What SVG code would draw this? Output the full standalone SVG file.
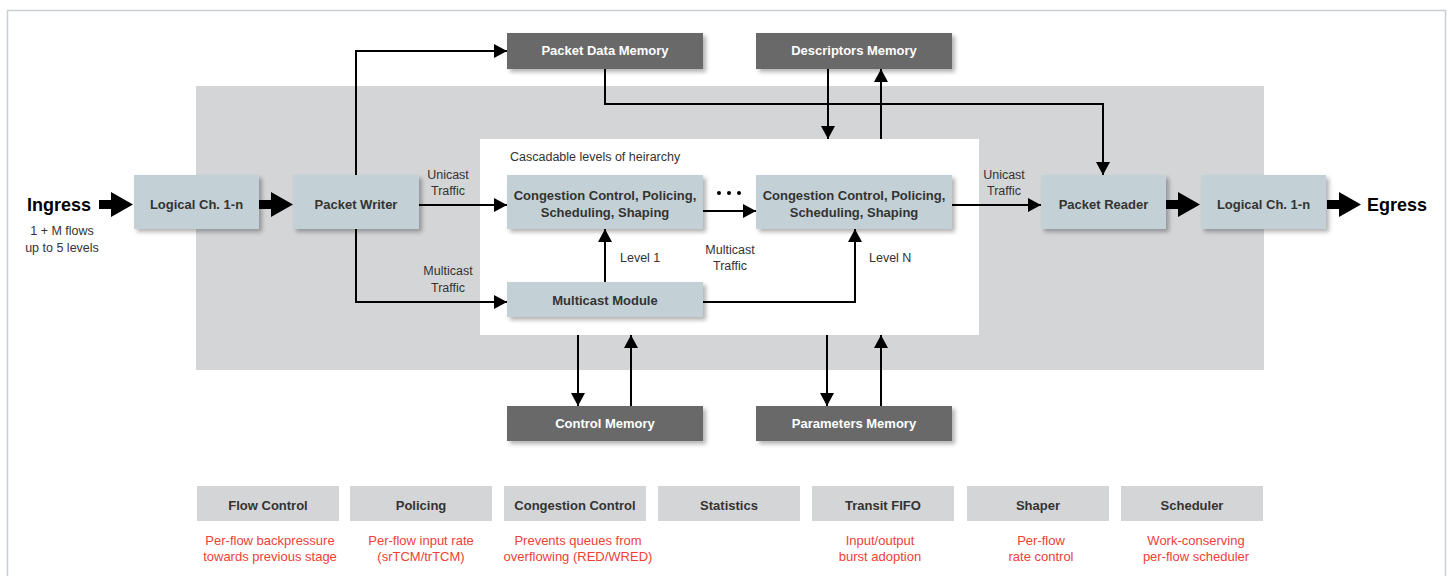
<svg xmlns="http://www.w3.org/2000/svg" width="1448" height="576" viewBox="0 0 1448 576">
<defs>
<filter id="sh" x="-10%" y="-20%" width="130%" height="160%"><feDropShadow dx="3" dy="3" stdDeviation="2" flood-color="#000" flood-opacity="0.3"/></filter>
<marker id="ah" markerUnits="userSpaceOnUse" markerWidth="13" markerHeight="14" refX="13" refY="7" orient="auto"><path d="M0,0 L13,7 L0,14 z" fill="#000"/></marker>
</defs>
<style>
.blk{fill:#c3d0d5;filter:url(#sh)}
.mem{fill:#69696b;filter:url(#sh)}
.bt{font-family:"Liberation Sans",Arial,sans-serif;font-weight:bold;font-size:13px;fill:#333;text-anchor:middle}
.mt{font-family:"Liberation Sans",Arial,sans-serif;font-weight:bold;font-size:13px;fill:#fff;text-anchor:middle}
.lb{font-family:"Liberation Sans",Arial,sans-serif;font-size:12.5px;fill:#333;text-anchor:middle}
.ll{font-family:"Liberation Sans",Arial,sans-serif;font-size:12.5px;fill:#333}
.big{font-family:"Liberation Sans",Arial,sans-serif;font-weight:bold;font-size:18px;fill:#000}
.leg{fill:#d4d5d7}
.red{font-family:"Liberation Sans",Arial,sans-serif;font-size:13px;fill:#ef4136;text-anchor:middle}
.c{fill:none;stroke:#000;stroke-width:2}
.ca{fill:none;stroke:#000;stroke-width:2;marker-end:url(#ah)}
</style>
<rect x="0" y="0" width="1448" height="576" fill="#fff"/>
<rect x="7.5" y="10.5" width="1438" height="580" fill="#fff" stroke="#c9ced2" stroke-width="1.5"/>
<rect x="196" y="86" width="1068" height="284" fill="#d4d5d7"/>
<rect x="480" y="139" width="499" height="196" fill="#fff"/>
<text x="510" y="161" class="ll">Cascadable levels of heirarchy</text>

<g id="connectors">
<path class="ca" d="M356,175 V51 H507"/>
<path class="ca" d="M356,229 V302 H507"/>
<path class="ca" d="M419,205 H507"/>
<path class="ca" d="M605,69 V104 H1103 V175"/>
<path class="ca" d="M828,69 V139"/>
<path class="ca" d="M881,139 V69"/>
<path class="ca" d="M703,211 H756"/>
<path class="ca" d="M605,282 V229"/>
<path class="ca" d="M703,302 H855 V229"/>
<path class="ca" d="M952,205 H1041"/>
<path class="ca" d="M578,335 V406"/>
<path class="ca" d="M631,406 V335"/>
<path class="ca" d="M827,335 V406"/>
<path class="ca" d="M881,406 V335"/>
<polygon points="99,200 111,200 111,192 133,204.5 111,217 111,209 99,209" fill="#000"/>
<polygon points="259,200 271,200 271,192 293,204.5 271,217 271,209 259,209" fill="#000"/>
<polygon points="1166,200 1178,200 1178,192 1200,204.5 1178,217 1178,209 1166,209" fill="#000"/>
<polygon points="1327,200 1339,200 1339,192 1361,204.5 1339,217 1339,209 1327,209" fill="#000"/>
</g>

<text x="27" y="211" class="big">Ingress</text>
<text x="62" y="235" class="lb">1 + M flows</text>
<text x="62" y="252" class="lb">up to 5 levels</text>
<text x="1367" y="211" class="big">Egress</text>
<text x="448" y="179" class="lb">Unicast</text>
<text x="448" y="195" class="lb">Traffic</text>
<text x="448" y="275" class="lb">Multicast</text>
<text x="448" y="292" class="lb">Traffic</text>
<text x="1004" y="179" class="lb">Unicast</text>
<text x="1004" y="195" class="lb">Traffic</text>
<text x="730" y="254" class="lb">Multicast</text>
<text x="730" y="270" class="lb">Traffic</text>
<text x="620" y="262" class="ll">Level 1</text>
<text x="869" y="262" class="ll">Level N</text>
<g id="dots" fill="#000"><circle cx="719" cy="193" r="2"/><circle cx="729" cy="193" r="2"/><circle cx="739" cy="193" r="2"/></g>

<g id="logical-in"><rect class="blk" x="134" y="175" width="125" height="54"/><text x="196.5" y="209" class="bt">Logical Ch. 1-n</text></g>
<g id="packet-writer"><rect class="blk" x="293" y="175" width="126" height="54"/><text x="356" y="209" class="bt">Packet Writer</text></g>
<g id="cc1"><rect class="blk" x="507" y="175" width="196" height="54"/><text x="605" y="200" class="bt">Congestion Control, Policing,</text><text x="605" y="217" class="bt">Scheduling, Shaping</text></g>
<g id="cc2"><rect class="blk" x="756" y="175" width="196" height="54"/><text x="854" y="200" class="bt">Congestion Control, Policing,</text><text x="854" y="217" class="bt">Scheduling, Shaping</text></g>
<g id="multicast-module"><rect class="blk" x="507" y="282" width="196" height="35"/><text x="605" y="305" class="bt">Multicast Module</text></g>
<g id="packet-reader"><rect class="blk" x="1041" y="175" width="125" height="54"/><text x="1103.5" y="209" class="bt">Packet Reader</text></g>
<g id="logical-out"><rect class="blk" x="1201" y="175" width="125" height="54"/><text x="1263.5" y="209" class="bt">Logical Ch. 1-n</text></g>
<g id="packet-data-memory"><rect class="mem" x="507" y="33" width="196" height="36"/><text x="605" y="55" class="mt">Packet Data Memory</text></g>
<g id="descriptors-memory"><rect class="mem" x="756" y="33" width="196" height="36"/><text x="854" y="55" class="mt">Descriptors Memory</text></g>
<g id="control-memory"><rect class="mem" x="507" y="406" width="196" height="35"/><text x="605" y="428" class="mt">Control Memory</text></g>
<g id="parameters-memory"><rect class="mem" x="756" y="406" width="196" height="35"/><text x="854" y="428" class="mt">Parameters Memory</text></g>

<g id="legend-flow"><rect class="leg" x="197" y="486" width="142" height="35"/><text x="268" y="510" class="bt">Flow Control</text><text x="270" y="545" class="red">Per-flow backpressure</text><text x="270" y="561" class="red">towards previous stage</text></g>
<g id="legend-policing"><rect class="leg" x="350" y="486" width="142" height="35"/><text x="421" y="510" class="bt">Policing</text><text x="421" y="545" class="red">Per-flow input rate</text><text x="421" y="561" class="red">(srTCM/trTCM)</text></g>
<g id="legend-congestion"><rect class="leg" x="504" y="486" width="142" height="35"/><text x="575" y="510" class="bt">Congestion Control</text><text x="578" y="545" class="red">Prevents queues from</text><text x="578" y="561" class="red">overflowing (RED/WRED)</text></g>
<g id="legend-statistics"><rect class="leg" x="658" y="486" width="142" height="35"/><text x="729" y="510" class="bt">Statistics</text></g>
<g id="legend-fifo"><rect class="leg" x="812" y="486" width="142" height="35"/><text x="883" y="510" class="bt">Transit FIFO</text><text x="880" y="545" class="red">Input/output</text><text x="880" y="561" class="red">burst adoption</text></g>
<g id="legend-shaper"><rect class="leg" x="967" y="486" width="142" height="35"/><text x="1038" y="510" class="bt">Shaper</text><text x="1041" y="545" class="red">Per-flow</text><text x="1041" y="561" class="red">rate control</text></g>
<g id="legend-scheduler"><rect class="leg" x="1121" y="486" width="142" height="35"/><text x="1192" y="510" class="bt">Scheduler</text><text x="1196" y="545" class="red">Work-conserving</text><text x="1196" y="561" class="red">per-flow scheduler</text></g>
</svg>
